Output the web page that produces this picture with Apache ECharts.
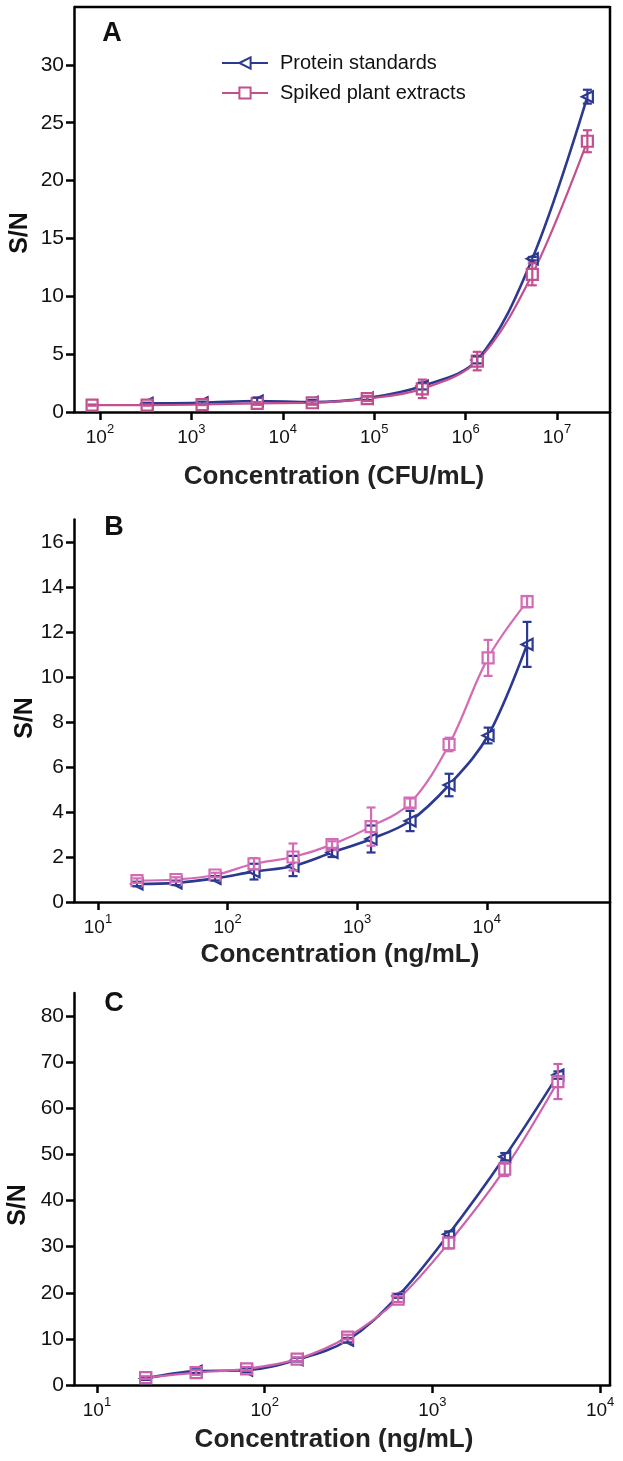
<!DOCTYPE html>
<html>
<head>
<meta charset="utf-8">
<script src="https://cdn.jsdelivr.net/npm/echarts@6/dist/echarts.min.js"></script>
<style>
html,body{margin:0;padding:0;background:#fff;}
#chart{width:623px;height:1461px;}
</style>
</head>
<body>
<div id="chart"></div>
<script>
// ---------- data ----------
const seriesNames = ['Protein standards', 'Spiked plant extracts'];

// Panel A (CFU/mL)
const aConc = [82, 328, 1310, 5250, 21000, 84000, 336000, 1340000, 5370000, 21500000];
const aBlue = [null, 0.75, 0.8, 0.95, 0.85, 1.2, 2.25, 4.5, 13.25, 27.25];
const aBlueErr = [null, 0.05, 0.1, 0.3, 0.2, 0.15, 0.3, 0.3, 0.15, 0.6];
const aPink = [0.6, 0.6, 0.65, 0.75, 0.8, 1.15, 2.0, 4.4, 11.9, 23.4];
const aPinkErr = [0.05, 0.05, 0.05, 0.1, 0.1, 0.2, 0.8, 0.8, 0.95, 0.95];

// Panel B (ng/mL)
const bConc = [20, 40, 80, 160, 320, 640, 1280, 2560, 5120, 10240, 20480];
const bBlue = [0.8, 0.85, 1.05, 1.35, 1.6, 2.2, 2.8, 3.6, 5.2, 7.4, 11.45];
const bBlueErr = [0.1, 0.1, 0.1, 0.35, 0.45, 0.2, 0.6, 0.45, 0.5, 0.35, 1.0];
const bPink = [0.95, 1.0, 1.2, 1.7, 2.0, 2.55, 3.35, 4.4, 7.0, 10.85, 13.35];
const bPinkErr = [0.1, 0.1, 0.1, 0.25, 0.6, 0.15, 0.85, 0.2, 0.3, 0.8, 0.25];

// Panel C (ng/mL)
const cConc = [19.5, 39, 78, 156, 312, 625, 1250, 2700, 5600];
const cBlue = [1.4, 3.0, 3.2, 5.5, 9.7, 19.3, 32.7, 49.5, 67.2];
const cBlueErr = [0.3, 0.4, 0.4, 0.4, 0.5, 0.4, 0.6, 0.8, 0.8];
const cPink = [1.6, 2.7, 3.5, 5.6, 10.4, 18.6, 30.8, 46.8, 65.8];
const cPinkErr = [0.3, 0.5, 0.4, 0.4, 0.5, 0.6, 1.2, 1.5, 3.8];

// tick labels
const aXTicks = [2, 3, 4, 5, 6, 7];      // exponents of 10
const bXTicks = [1, 2, 3, 4];
const cXTicks = [1, 2, 3, 4];
const aYTicks = [0, 5, 10, 15, 20, 25, 30];
const bYTicks = [0, 2, 4, 6, 8, 10, 12, 14, 16];
const cYTicks = [0, 10, 20, 30, 40, 50, 60, 70, 80];
const xNames = ['Concentration (CFU/mL)', 'Concentration (ng/mL)', 'Concentration (ng/mL)'];
const panelLetters = ['A', 'B', 'C'];

// ---------- style ----------
const BLUE = '#2b3990';
const PINKS = ['#c24f8e', '#d36cb5', '#cc62ac'];
const FONT = '"Liberation Sans", Arial, Helvetica, sans-serif';

const L = 74, R = 610;
const grids = [
  {left: L, top: 7, width: R - L, height: 405},
  {left: L, top: 519.5, width: R - L, height: 382.5},
  {left: L, top: 993, width: R - L, height: 392}
];
const xRanges = [[1.716, 7.58], [0.815, 4.951], [0.863, 4.059]];
const yMax = [35, 17, 85];
const xTickSets = [aXTicks, bXTicks, cXTicks];
const yTickSets = [aYTicks, bYTicks, cYTicks];
const nameGaps = [52, 40, 42];
const namePads = [[0, 16, 0, 0], [0, 4, 0, 0], [0, 16, 0, 0]];

function pts(conc, vals) {
  const out = [];
  conc.forEach((c, i) => { if (vals[i] != null) out.push([Math.log10(c), vals[i]]); });
  return out;
}
function errPts(conc, vals, errs) {
  const out = [];
  conc.forEach((c, i) => { if (vals[i] != null) out.push([Math.log10(c), vals[i], errs[i]]); });
  return out;
}
function errRender(color) {
  return function (params, api) {
    const x = api.value(0), y = api.value(1), e = api.value(2);
    const t = api.coord([x, y + e]);
    const b = api.coord([x, y - e]);
    const w = 4.5;
    const style = {stroke: color, lineWidth: 2.2};
    return {
      type: 'group',
      children: [
        {type: 'line', shape: {x1: t[0], y1: t[1], x2: b[0], y2: b[1]}, style: style},
        {type: 'line', shape: {x1: t[0] - w, y1: t[1], x2: t[0] + w, y2: t[1]}, style: style},
        {type: 'line', shape: {x1: b[0] - w, y1: b[1], x2: b[0] + w, y2: b[1]}, style: style}
      ]
    };
  };
}

const axisLineStyle = {color: '#000', width: 2.5};

const xAxes = grids.map((g, i) => ({
  type: 'value',
  gridIndex: i,
  min: xRanges[i][0],
  max: xRanges[i][1],
  splitLine: {show: false},
  axisLine: {show: true, onZero: false, lineStyle: axisLineStyle},
  axisTick: {show: true, length: 8, lineStyle: {color: '#000', width: 2.5}, customValues: xTickSets[i]},
  axisLabel: {
    customValues: xTickSets[i],
    margin: 11,
    formatter: v => '{b|10}{s|' + Math.round(v) + '}',
    rich: {
      b: {fontSize: 19, fontFamily: FONT, color: '#111', lineHeight: 24, verticalAlign: 'bottom'},
      s: {fontSize: 13, fontFamily: FONT, color: '#111', lineHeight: 24, verticalAlign: 'top'}
    }
  },
  name: xNames[i],
  nameLocation: 'middle',
  nameGap: nameGaps[i],
  nameTextStyle: {fontSize: 26, fontWeight: 'bold', fontFamily: FONT, color: '#222', padding: namePads[i]}
}));

const yAxes = grids.map((g, i) => ({
  type: 'value',
  gridIndex: i,
  min: 0,
  max: yMax[i],
  splitLine: {show: false},
  axisLine: {show: true, lineStyle: axisLineStyle},
  axisTick: {show: true, length: 8, lineStyle: {color: '#000', width: 2.5}, customValues: yTickSets[i]},
  axisLabel: {customValues: yTickSets[i], margin: 10, fontSize: 21, fontFamily: FONT, color: '#111'}
}));

function lineSeries(name, idx, data, color, symbol, rotate, lw) {
  return {
    name: name,
    type: 'line',
    xAxisIndex: idx, yAxisIndex: idx,
    data: data,
    smooth: 0.35,
    symbol: symbol,
    symbolRotate: rotate,
    symbolSize: 11,
    showSymbol: true,
    lineStyle: {color: color, width: lw},
    itemStyle: {color: '#fff', borderColor: color, borderWidth: 2.2},
    z: 3
  };
}
function errSeries(idx, data, color) {
  return {
    type: 'custom',
    name: 'err',
    xAxisIndex: idx, yAxisIndex: idx,
    data: data,
    renderItem: errRender(color),
    z: 4,
    silent: true
  };
}

const concs = [aConc, bConc, cConc];
const blues = [aBlue, bBlue, cBlue];
const blueErrs = [aBlueErr, bBlueErr, cBlueErr];
const pinks = [aPink, bPink, cPink];
const pinkErrs = [aPinkErr, bPinkErr, cPinkErr];

const series = [];
for (let i = 0; i < 3; i++) {
  series.push(lineSeries(seriesNames[0], i, pts(concs[i], blues[i]), BLUE, 'triangle', 90, 2.6));
  series.push(lineSeries(seriesNames[1], i, pts(concs[i], pinks[i]), PINKS[i], 'rect', 0, 2.2));
  series.push(errSeries(i, errPts(concs[i], blues[i], blueErrs[i]), BLUE));
  series.push(errSeries(i, errPts(concs[i], pinks[i], pinkErrs[i]), PINKS[i]));
}

const letterPos = [[112, 34], [114, 528], [114, 1004]];
const snPos = [[20, 233], [25, 718], [18, 1205]];

const graphic = [
  {type: 'line', shape: {x1: L, y1: 7, x2: R, y2: 7}, style: {stroke: '#000', lineWidth: 2.5}},
  {type: 'line', shape: {x1: R, y1: 6, x2: R, y2: 1386}, style: {stroke: '#000', lineWidth: 2.5}}
];
panelLetters.forEach((t, i) => {
  graphic.push({type: 'text', x: letterPos[i][0], y: letterPos[i][1],
    style: {text: t, font: 'bold 27px ' + FONT, fill: '#111', align: 'center', verticalAlign: 'middle'}});
  graphic.push({type: 'text', x: snPos[i][0], y: snPos[i][1], rotation: Math.PI / 2,
    style: {text: 'S/N', font: 'bold 25px ' + FONT, fill: '#111', align: 'center', verticalAlign: 'middle'}});
});

const chart = echarts.init(document.getElementById('chart'), null, {renderer: 'canvas'});
chart.setOption({
  animation: false,
  backgroundColor: '#fff',
  grid: grids,
  xAxis: xAxes,
  yAxis: yAxes,
  legend: {
    data: seriesNames,
    orient: 'vertical',
    left: 216,
    top: 48,
    itemWidth: 46,
    itemHeight: 14,
    itemGap: 10,
    textStyle: {fontSize: 20, fontFamily: FONT, color: '#111', padding: [0, 0, 0, 7]}
  },
  series: series,
  graphic: graphic
});
</script>
</body>
</html>
